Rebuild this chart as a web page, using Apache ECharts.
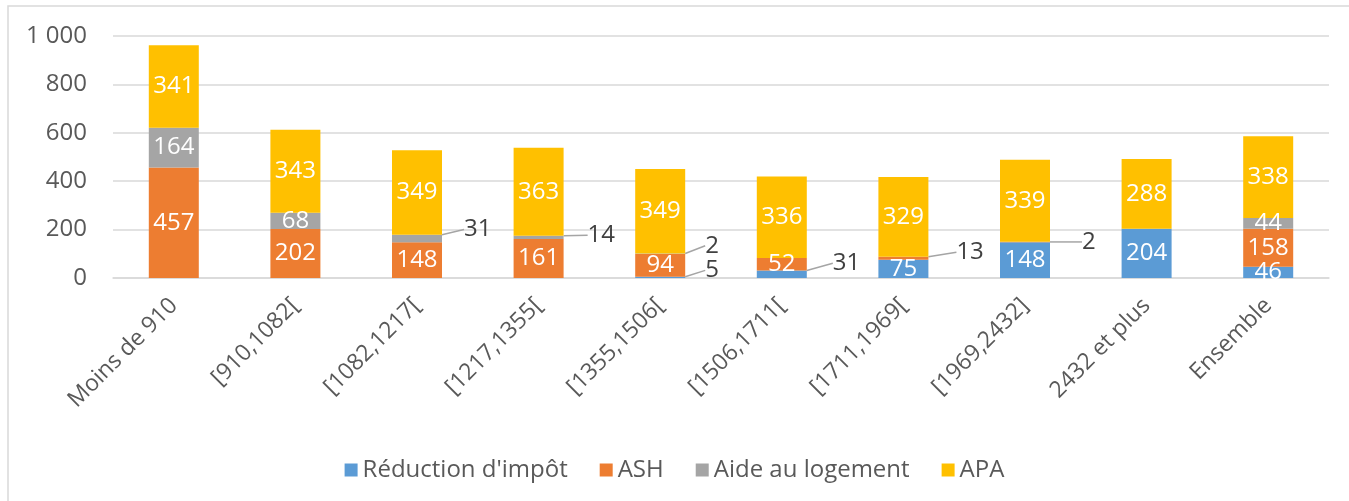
<!DOCTYPE html>
<html>
<head>
<meta charset="utf-8">
<script src="https://cdn.jsdelivr.net/npm/echarts@6/dist/echarts.min.js"></script>
<style>
  html, body { margin: 0; padding: 0; background: #ffffff; }
  #chart { width: 1349px; height: 501px; }
</style>
</head>
<body>
<div id="chart"></div>
<script>
// tranches de revenu
var categories = ['Moins de 910', '[910,1082[', '[1082,1217[', '[1217,1355[', '[1355,1506[',
  '[1506,1711[', '[1711,1969[', '[1969,2432]', '2432 et plus', 'Ensemble']
var reductionImpot = [0, 0, 0, 0, 5, 31, 75, 148, 204, 46]
var ash = [457, 202, 148, 161, 94, 52, 13, 2, 0, 158]
var aideLogement = [164, 68, 31, 14, 2, 0, 0, 0, 0, 44]
var apa = [341, 343, 349, 363, 349, 336, 329, 339, 288, 338]
var yTicks = [0, 200, 400, 600, 800, 1000]

var seriesNames = ["Réduction d'impôt", 'ASH', 'Aide au logement', 'APA']
var seriesData = [reductionImpot, ash, aideLogement, apa]
var colors = ['#5B9BD5', '#ED7D31', '#A5A5A5', '#FFC000']
var font = 'Open Sans'

// petites valeurs : etiquette a droite de la barre avec un trait de rappel
// cle = serie-categorie, valeur = [ecart horizontal, decalage vertical]
var outside = {
  '2-2': [22, -9], '2-3': [24, -2], '2-4': [20, -8], '0-4': [20, -7],
  '0-5': [26, -11], '1-6': [28, -6], '1-7': [32, 0]
}

var myChart = echarts.init(document.getElementById('chart'))
var option = {
  animation: false,
  textStyle: { fontFamily: font },
  graphic: [{
    type: 'rect',
    shape: { x: 8, y: 6, width: 1400, height: 600 },
    style: { fill: 'none', stroke: '#d9d9d9', lineWidth: 1.5 },
    silent: true
  }],
  grid: { left: 113, right: 20, top: 36, bottom: 223 },
  legend: {
    top: 453,
    left: 'center',
    itemWidth: 13,
    itemHeight: 13,
    itemGap: 32,
    icon: 'rect',
    data: seriesNames,
    textStyle: { fontFamily: font, fontSize: 24, color: '#595959' }
  },
  xAxis: {
    type: 'category',
    data: categories,
    axisLine: { lineStyle: { color: '#d9d9d9', width: 1.5 } },
    axisTick: { show: false },
    axisLabel: {
      interval: 0,
      rotate: 45,
      margin: 24,
      fontFamily: font,
      fontSize: 23,
      color: '#595959'
    }
  },
  yAxis: {
    type: 'value',
    min: yTicks[0],
    max: yTicks[yTicks.length - 1],
    interval: 200,
    axisLine: { show: false },
    axisTick: { show: false },
    splitLine: { lineStyle: { color: '#d9d9d9', width: 1.5 } },
    axisLabel: {
      margin: 26,
      fontFamily: font,
      fontSize: 24,
      color: '#595959',
      formatter: function (v) {
        return v >= 1000 ? Math.floor(v / 1000) + ' ' + String(v % 1000).padStart(3, '0') : String(v)
      }
    }
  },
  series: []
}

for (let s = 0; s < seriesNames.length; s++) {
  option.series.push({
    name: seriesNames[s],
    type: 'bar',
    stack: 'total',
    barWidth: 50,
    data: seriesData[s].map(function (v, i) {
      if (outside[s + '-' + i] !== undefined) {
        return { value: v, label: { color: '#404040' } }
      }
      return v
    }),
    itemStyle: { color: colors[s] },
    label: {
      show: true,
      position: 'inside',
      fontFamily: font,
      fontSize: 24,
      color: '#ffffff',
      formatter: function (p) { return p.value === 0 ? '' : String(p.value) }
    },
    labelLine: {
      show: true,
      length2: 0,
      lineStyle: { color: '#a5a5a5', width: 1.5 }
    },
    labelLayout: function (p) {
      var off = outside[p.seriesIndex + '-' + p.dataIndex]
      if (off === undefined) return {}
      return {
        x: p.rect.x + p.rect.width + off[0],
        y: p.rect.y + p.rect.height / 2 + off[1],
        align: 'left',
        verticalAlign: 'middle'
      }
    }
  })
}

myChart.setOption(option)
</script>
</body>
</html>
